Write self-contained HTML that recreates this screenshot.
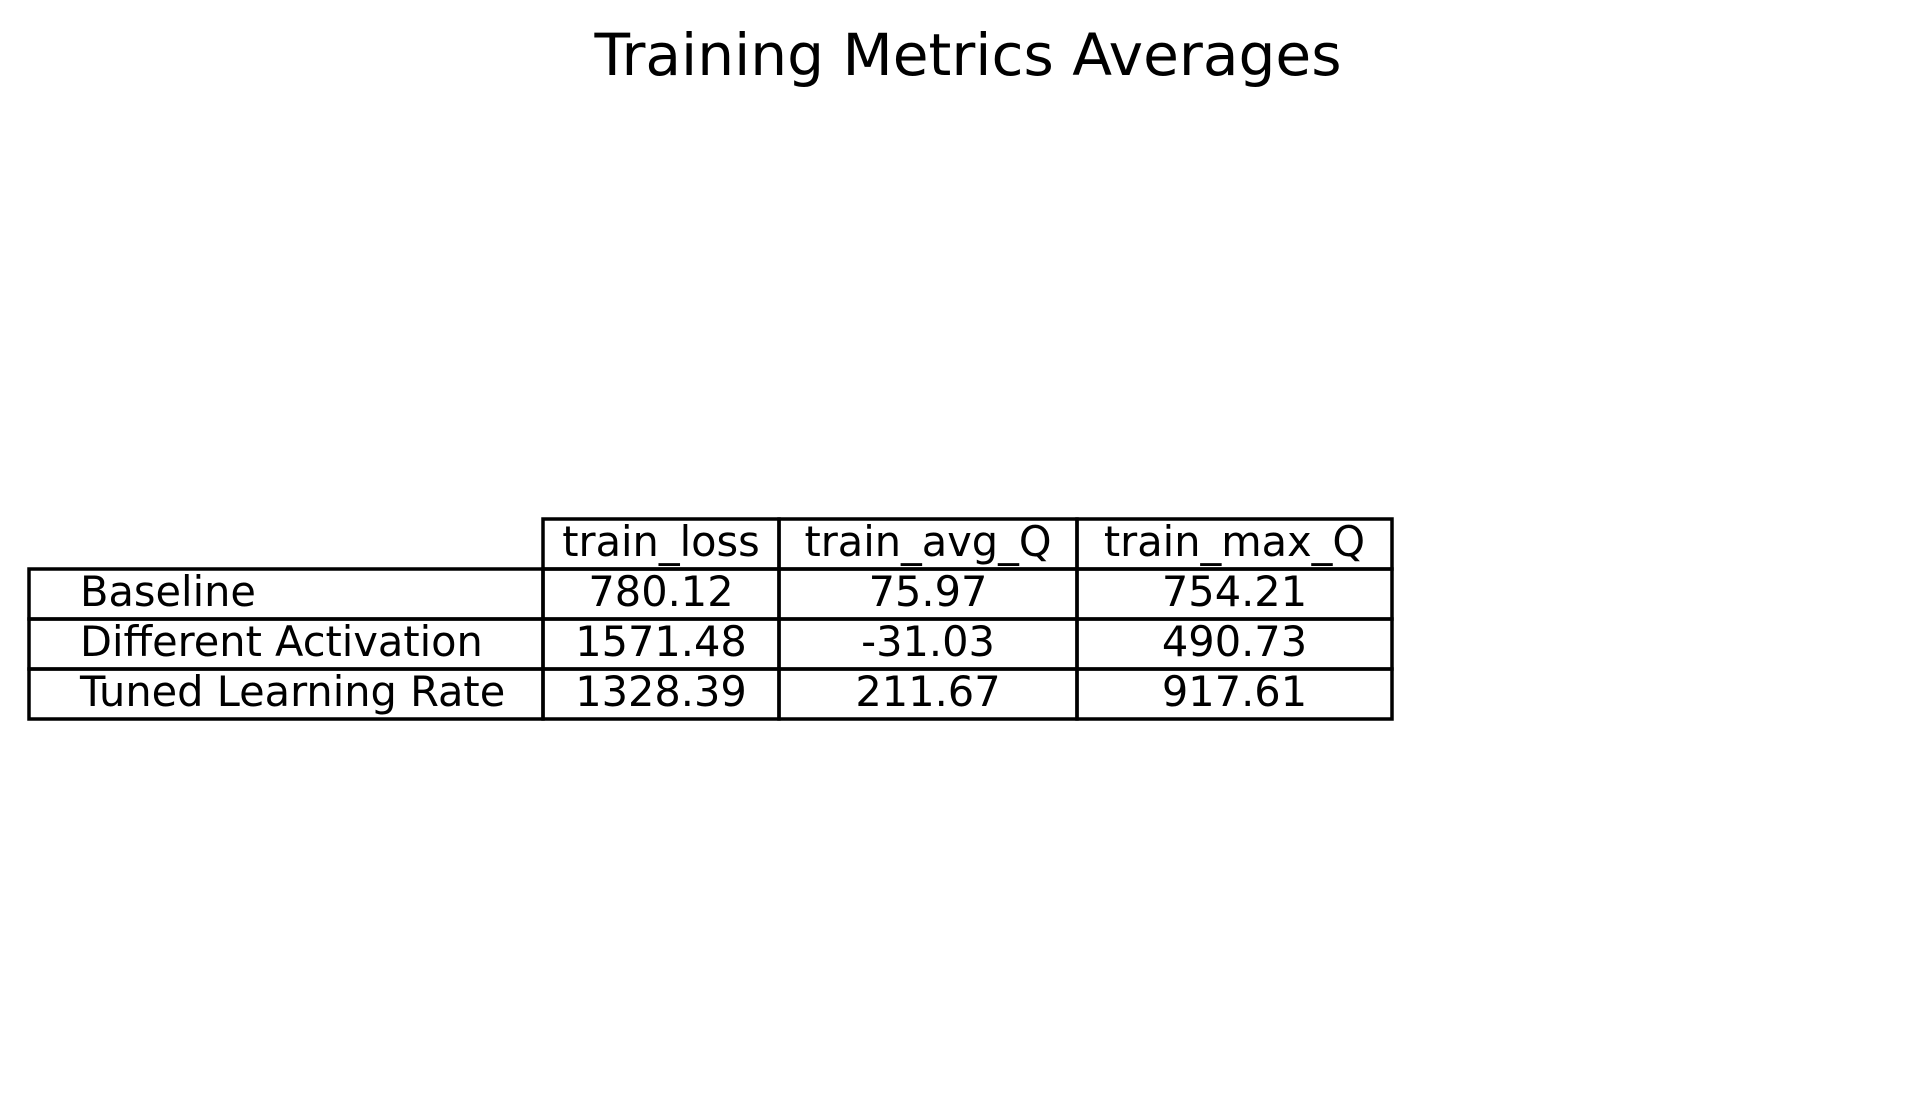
<!DOCTYPE html>
<html><head><meta charset="utf-8"><style>
html,body{margin:0;padding:0;background:#fff;width:1926px;height:1112px;overflow:hidden}
svg{display:block}
text{font-family:"DejaVu Sans","Liberation Sans",sans-serif;fill:#000}
</style></head><body>
<svg id="chart" width="1926" height="1112">
<text x="968" y="75" text-anchor="middle" font-size="58.2">Training Metrics Averages</text>
<g id="tbl"></g>
</svg>
<script>
const columns = ["train_loss", "train_avg_Q", "train_max_Q"];
const rowLabels = ["Baseline", "Different Activation", "Tuned Learning Rate"];
const trainLoss = ["780.12", "1571.48", "1328.39"];
const trainAvgQ = ["75.97", "-31.03", "211.67"];
const trainMaxQ = ["754.21", "490.73", "917.61"];

const series = [trainLoss, trainAvgQ, trainMaxQ];
const NS = "http://www.w3.org/2000/svg";
const g = document.getElementById("tbl");
const colX = [29, 543, 779, 1077, 1392];
const top0 = 519, rowH = 50;
const fs = 41.5;
const sw = 3.5;
function mk(tag, attrs){const e=document.createElementNS(NS,tag);for(const k in attrs)e.setAttribute(k,attrs[k]);g.appendChild(e);return e;}
columns.forEach((c,i)=>{
  const r = mk("rect",{x:colX[i+1],y:top0,width:colX[i+2]-colX[i+1],height:rowH,fill:"none",stroke:"#000","stroke-width":sw});
  
  
  const t = mk("text",{x:(colX[i+1]+colX[i+2])/2,y:top0+37,"text-anchor":"middle","font-size":fs});
  t.textContent = c;
  
  
});
rowLabels.forEach((lab,j)=>{
  const y = top0 + rowH*(j+1);
  const lr = mk("rect",{x:colX[0],y:y,width:colX[1]-colX[0],height:rowH,fill:"none",stroke:"#000","stroke-width":sw});
  
  
  const lt = mk("text",{x:80,y:y+37,"font-size":fs});
  lt.textContent = lab;
  
  
  series.forEach((s,i)=>{
    const r = mk("rect",{x:colX[i+1],y:y,width:colX[i+2]-colX[i+1],height:rowH,fill:"none",stroke:"#000","stroke-width":sw});
    
    
    const t = mk("text",{x:(colX[i+1]+colX[i+2])/2,y:y+37,"text-anchor":"middle","font-size":fs});
    t.textContent = s[j];
    
    
  });
});
</script>
</body></html>
